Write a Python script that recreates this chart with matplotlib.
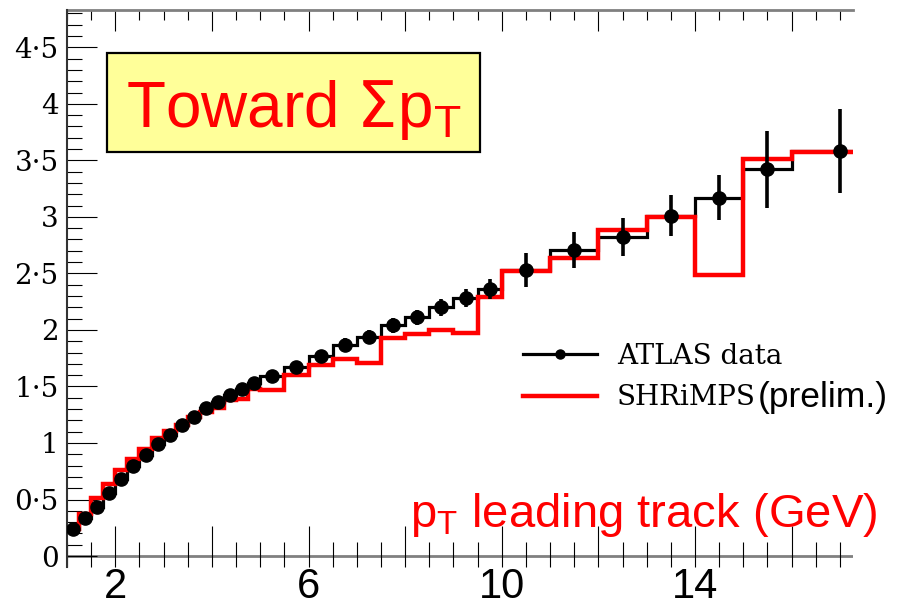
import numpy as np
import matplotlib
matplotlib.use("Agg")
import matplotlib.pyplot as plt
from matplotlib.lines import Line2D
from matplotlib.patches import Rectangle
from matplotlib.ticker import MultipleLocator, FuncFormatter

# pT(lead) bin edges [GeV]
edges = [1.0, 1.25, 1.5, 1.75, 2.0, 2.25, 2.5, 2.75, 3.0, 3.25, 3.5, 3.75,
         4.0, 4.25, 4.5, 4.75, 5.0, 5.5, 6.0, 6.5, 7.0, 7.5, 8.0, 8.5, 9.0,
         9.5, 10.0, 11.0, 12.0, 13.0, 14.0, 15.0, 16.0, 18.0]

# toward-region sum pT density, ATLAS data
atlas_vals = [0.236, 0.333, 0.436, 0.56, 0.68, 0.80, 0.894, 0.99, 1.07, 1.16,
              1.23, 1.31, 1.365, 1.425, 1.48, 1.535,
              1.595, 1.675, 1.77, 1.87, 1.94, 2.04, 2.11, 2.20, 2.28, 2.36,
              2.53, 2.71, 2.82, 3.01, 3.17, 3.42, 3.58]
atlas_err = [0.02, 0.02, 0.02, 0.02, 0.025, 0.025, 0.025, 0.03, 0.03, 0.03,
             0.035, 0.035, 0.035, 0.04, 0.04, 0.04,
             0.05, 0.05, 0.055, 0.06, 0.06, 0.065, 0.07, 0.075, 0.08, 0.09,
             0.15, 0.16, 0.17, 0.18, 0.20, 0.34, 0.37]

# SHRiMPS prediction
shrimps_vals = [0.24, 0.37, 0.51, 0.64, 0.76, 0.86, 0.95, 1.04, 1.11, 1.16,
                1.23, 1.27, 1.31, 1.38, 1.39, 1.48,
                1.47, 1.60, 1.69, 1.74, 1.71, 1.93, 1.96, 2.00, 1.97, 2.29,
                2.52, 2.64, 2.88, 3.00, 2.49, 3.51, 3.57]

xticks_shown = [2, 6, 10, 14]

red = "#ff0000"
W, H = 903, 606

edges_arr = np.array(edges)
centers = 0.5 * (edges_arr[1:] + edges_arr[:-1])

fig = plt.figure(figsize=(W / 100, H / 100), dpi=100)
ax = fig.add_axes([67 / W, 1 - 567 / H, (853 - 67) / W, (567 - 10) / H])
ax.set_xlim(1.0, 17.27)
ax.set_ylim(-0.097, 4.83)

ax.stairs(atlas_vals, edges, baseline=None, color="black", lw=2.3, zorder=2)
ax.stairs(shrimps_vals, edges, baseline=None, color=red, lw=3.2, zorder=3)
ax.errorbar(centers, atlas_vals, yerr=atlas_err, fmt="o", color="black",
            ms=9.5, elinewidth=2.6, capsize=0, zorder=4)

ax.axhline(0, color="#808080", lw=2, zorder=1)

for s in ["bottom", "right", "top"]:
    ax.spines[s].set_visible(False)
ax.spines["left"].set_color("#333333")
ax.spines["left"].set_linewidth(1.5)

# x axis: long ticks every 2, short every 0.5
ax.xaxis.set_major_locator(MultipleLocator(2))
ax.xaxis.set_minor_locator(MultipleLocator(0.5))
ax.xaxis.set_major_formatter(FuncFormatter(
    lambda v, p: f"{v:g}" if round(v) in xticks_shown else ""))
ax.tick_params(axis="x", which="major", direction="in", length=29.5, width=0.8,
               pad=0, labelsize=30)
ax.tick_params(axis="x", which="minor", direction="in", length=18, width=0.8)
for lab in ax.get_xticklabels():
    lab.set_family("Liberation Sans")

# y axis
ax.yaxis.set_major_locator(MultipleLocator(0.5))
ax.yaxis.set_minor_locator(MultipleLocator(0.1))
ax.yaxis.set_major_formatter(FuncFormatter(lambda v, p: f"{v:g}".replace(".", "\u00b7")))
ax.tick_params(axis="y", which="major", direction="in", length=21.6, width=0.8,
               pad=6, labelsize=20)
ax.tick_params(axis="y", which="minor", direction="in", length=10.8, width=0.8)
for lab in ax.get_yticklabels():
    lab.set_family("DejaVu Serif")

# top frame with its own shorter ticks
top = ax.secondary_xaxis("top")
top.xaxis.set_major_locator(MultipleLocator(2))
top.xaxis.set_minor_locator(MultipleLocator(0.5))
top.tick_params(axis="x", which="major", direction="in", length=15, width=0.8, labeltop=False)
top.tick_params(axis="x", which="minor", direction="in", length=7.5, width=0.8)
top.spines["top"].set_color("#808080")
top.spines["top"].set_linewidth(2)

# title box
fig.add_artist(Rectangle((107 / W, 1 - 152 / H), 373 / W, 99 / H, transform=fig.transFigure,
                         facecolor="#ffff99", edgecolor="black", lw=1.6))
fig.text(294 / W, 1 - 127 / H, r"Toward $\Sigma$p$_\mathregular{T}$", ha="center",
         va="baseline", color=red, fontsize=46, family="Liberation Sans")

# axis caption
fig.text(410 / W, 1 - 527 / H, r"p$_\mathregular{T}$ leading track (GeV)", ha="left",
         va="baseline", color=red, fontsize=34, family="Liberation Sans")

handles = [Line2D([], [], color="black", lw=2.3, marker="o", ms=6.5),
           Line2D([], [], color=red, lw=3.2)]
ax.legend(handles, ["ATLAS data", "SHRiMPS"], loc="upper left",
          bbox_to_anchor=(523 / W, 1 - 343 / H), bbox_transform=fig.transFigure,
          frameon=False, prop={"family": "DejaVu Serif", "size": 20},
          handlelength=2.66, handletextpad=0.72, labelspacing=0.52,
          borderpad=0, borderaxespad=0)
fig.text(758 / W, 1 - 398 / H, "(prelim.)", ha="left", va="center",
         fontsize=25.5, family="Liberation Sans")

fig.savefig("out.png", dpi=100)
